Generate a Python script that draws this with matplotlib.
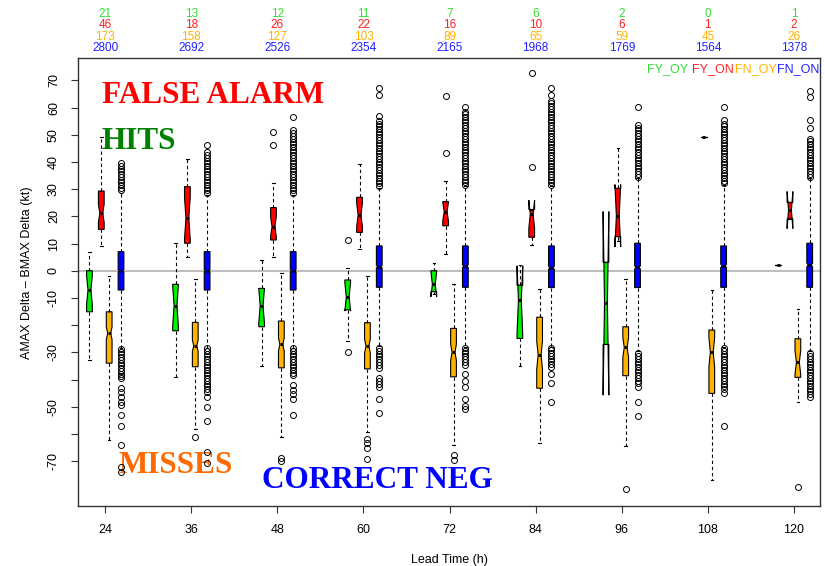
import numpy as np
import matplotlib
matplotlib.use("Agg")
import matplotlib.pyplot as plt

plt.rcParams["font.family"] = ["Liberation Sans", "DejaVu Sans"]

lead_times = [24, 36, 48, 60, 72, 84, 96, 108, 120]

# sample sizes per lead time
n_fy_oy = [21, 13, 12, 11, 7, 6, 2, 0, 1]
n_fy_on = [46, 18, 26, 22, 16, 10, 6, 1, 2]
n_fn_oy = [173, 158, 127, 103, 89, 65, 59, 45, 26]
n_fn_on = [2800, 2692, 2526, 2354, 2165, 1968, 1769, 1564, 1378]

# (lower whisker, q1, median, q3, upper whisker) in kt
fy_oy_stats = [
    (-32.8, -15.1, -7.1, 0.0, 7.0),
    (-39.0, -22.1, -12.9, -5.0, 10.1),
    (-34.9, -20.6, -12.9, -6.5, 3.9),
    (-25.7, -14.4, -9.6, -3.4, 0.9),
    (-8.5, -7.7, -5.0, 0.0, 2.7),
    (-34.9, -24.9, -10.8, -5.3, 2.0),
    (-27.1, -27.1, -12.0, 3.1, 3.1),
    None,
    (2.1, 2.1, 2.1, 2.1, 2.1),
]
fy_on_stats = [
    (9.1, 15.2, 21.1, 29.3, 49.3),
    (5.1, 10.1, 19.3, 30.9, 41.1),
    (5.1, 11.3, 16.2, 23.2, 32.1),
    (8.0, 14.1, 20.5, 27.0, 39.2),
    (6.1, 16.5, 21.7, 25.4, 33.1),
    (9.4, 12.3, 20.8, 22.5, 22.5),
    (11.0, 12.5, 20.2, 30.3, 45.0),
    (49.3, 49.3, 49.3, 49.3, 49.3),
    (19.0, 19.0, 22.3, 25.1, 25.1),
]
fn_oy_stats = [
    (-62.2, -34.0, -23.0, -15.1, -1.8),
    (-58.3, -35.3, -27.6, -19.0, -3.2),
    (-61.3, -35.7, -27.1, -18.5, -1.0),
    (-59.4, -36.1, -27.7, -19.1, -1.9),
    (-64.1, -39.0, -30.0, -21.2, -5.0),
    (-63.4, -43.2, -31.0, -17.1, -6.8),
    (-64.3, -38.6, -28.2, -20.6, -3.1),
    (-77.0, -45.1, -30.0, -21.8, -7.1),
    (-48.2, -39.2, -33.7, -25.0, -14.2),
]
fn_on_stats = [
    (-28.3, -7.1, 0.0, 7.0, 28.5),
    (-28.3, -7.1, 0.0, 7.0, 28.0),
    (-28.3, -7.1, 0.0, 7.0, 28.0),
    (-27.5, -6.1, 1.5, 9.1, 30.5),
    (-28.0, -6.1, 1.7, 9.1, 31.0),
    (-28.0, -6.2, 1.1, 9.1, 31.0),
    (-29.5, -6.2, 1.2, 10.1, 34.0),
    (-28.0, -6.1, 1.8, 9.1, 31.5),
    (-29.5, -6.1, 2.1, 10.1, 34.0),
]

# outliers
fy_oy_fliers = [[], [], [], [11.3, -30.0], [], [], [], [], []]
fy_on_fliers = [[], [], [51.1, 46.2], [], [43.2, 64.2], [38.1, 72.6], [], [], []]
fn_oy_fliers = [
    [], [-61.3], [-69.0, -70.0], [-61.8, -63.5, -65.3, -69.2],
    [-67.8, -69.6], [], [-80.3], [], [-79.7],
]
fn_on_fliers = [
    [29.5, 30.5, 31.5, 32.5, 33.5, 34.5, 35.5, 36.5, 37.5, 38.5, 39.5,
     -28.8, -29.8, -30.8, -31.8, -32.8, -33.8, -34.8, -35.8, -36.8, -37.8,
     -38.8, -39.6, -43.2, -44.5, -46.3, -48.2, -49.4, -53.0, -57.1, -64.1,
     -72.0, -74.1],
    [28.5, 29.5, 30.5, 31.5, 32.5, 33.5, 34.5, 35.5, 36.5, 37.5, 38.5, 39.5,
     40.5, 41.5, 42.5, 43.8, 46.2,
     -28.5, -29.5, -30.5, -31.5, -32.5, -33.5, -34.5, -35.5, -36.5, -37.5,
     -38.5, -39.5, -40.5, -41.5, -42.5, -43.5, -44.5, -46.3, -50.0, -55.3,
     -66.5, -70.8],
    [28.5, 29.5, 30.5, 31.5, 32.5, 33.5, 34.5, 35.5, 36.5, 37.5, 38.5, 39.5,
     40.5, 41.5, 42.5, 43.5, 44.5, 45.5, 46.5, 47.5, 48.5, 49.5, 50.5, 51.7,
     56.4,
     -28.5, -29.5, -30.5, -31.5, -32.5, -33.5, -34.5, -35.5, -36.5, -37.5,
     -38.3, -42.0, -43.7, -45.5, -47.0, -53.0],
    [31.1, 32.1, 33.1, 34.1, 35.1, 36.1, 37.1, 38.1, 39.1, 40.1, 41.1, 42.1,
     43.1, 44.1, 45.1, 46.1, 47.1, 48.1, 49.1, 50.1, 51.1, 52.1, 53.1, 54.1,
     55.1, 56.9, 64.6, 67.1,
     -28.5, -29.5, -30.5, -31.5, -32.5, -33.5, -34.5, -35.9, -39.4, -40.5,
     -41.5, -42.6, -47.2, -52.2],
    [31.5, 32.5, 33.5, 34.5, 35.5, 36.5, 37.5, 38.5, 39.5, 40.5, 41.5, 42.5,
     43.5, 44.5, 45.5, 46.5, 47.5, 48.5, 49.5, 50.5, 51.5, 52.5, 53.5, 54.5,
     55.5, 56.5, 57.5, 58.5, 60.3,
     -28.4, -29.4, -30.4, -31.4, -32.4, -33.4, -34.7, -38.1, -40.6, -42.9,
     -47.2, -49.7, -51.0],
    [31.5, 32.5, 33.5, 34.5, 35.5, 36.5, 37.5, 38.5, 39.5, 40.5, 41.5, 42.5,
     43.5, 44.5, 45.5, 46.5, 47.5, 48.5, 49.5, 50.5, 51.5, 52.5, 53.5, 54.5,
     55.5, 56.5, 57.5, 58.5, 59.5, 60.5, 61.5, 62.5, 64.5, 67.0,
     -28.3, -29.3, -30.3, -31.3, -32.3, -33.3, -34.3, -35.3, -38.0, -41.4,
     -48.2],
    [34.6, 35.6, 36.6, 37.6, 38.6, 39.6, 40.6, 41.6, 42.6, 43.6, 44.6, 45.6,
     46.6, 47.6, 48.6, 49.6, 50.6, 51.6, 52.6, 53.6, 60.3,
     -30.4, -31.4, -32.4, -33.4, -34.4, -35.4, -36.4, -37.4, -38.4, -39.4,
     -40.4, -41.4, -42.6, -48.2, -53.3],
    [32.1, 33.1, 34.1, 35.1, 36.1, 37.1, 38.1, 39.1, 40.1, 41.1, 42.1, 43.1,
     44.1, 45.1, 46.1, 47.1, 48.1, 49.1, 50.1, 51.1, 52.1, 53.1, 54.1, 55.4,
     60.3,
     -28.5, -29.5, -30.5, -31.5, -32.5, -33.5, -34.5, -35.5, -36.5, -37.5,
     -38.5, -39.5, -40.5, -41.5, -42.5, -43.5, -45.1, -57.1],
    [34.6, 35.6, 36.6, 37.6, 38.6, 39.6, 40.6, 41.6, 42.6, 43.6, 44.6, 45.6,
     46.6, 47.6, 48.4, 52.3, 55.4, 63.8, 66.1,
     -30.4, -31.4, -32.4, -33.4, -34.4, -35.4, -36.4, -37.4, -38.4, -39.4,
     -40.4, -41.4, -42.4, -43.4, -44.4, -45.4, -46.3],
]

groups = [
    ("FY_OY", fy_oy_stats, fy_oy_fliers, n_fy_oy, "#00ee00", "#33dd33", -2.2),
    ("FY_ON", fy_on_stats, fy_on_fliers, n_fy_on, "#ff0000", "#ff2020", -0.55),
    ("FN_OY", fn_oy_stats, fn_oy_fliers, n_fn_oy, "#ffb300", "#ffb300", 0.55),
    ("FN_ON", fn_on_stats, fn_on_fliers, n_fn_on, "#0000ff", "#2020ff", 2.2),
]

fig = plt.figure(figsize=(8.25, 5.66), dpi=100)
ax = fig.add_axes([0.0945, 0.1065, 0.9, 0.7915])

ax.axhline(0, color="#bebebe", lw=1.5, zorder=0)

for name, stats, fliers, counts, fill, _, offset in groups:
    bxp_stats = []
    positions = []
    for lead, st, fl, n in zip(lead_times, stats, fliers, counts):
        if st is None:
            continue
        lo, q1, med, q3, hi = st
        # R style notch: median +/- 1.58 * IQR / sqrt(n)
        half = 1.58 * (q3 - q1) / np.sqrt(n)
        bxp_stats.append(dict(whislo=lo, q1=q1, med=med, q3=q3, whishi=hi,
                              cilo=med - half, cihi=med + half, fliers=fl))
        positions.append(lead + offset)
    ax.bxp(bxp_stats, positions=positions, widths=0.8, capwidths=0.35,
           shownotches=True, patch_artist=True, manage_ticks=False,
           boxprops=dict(facecolor=fill, edgecolor="black", lw=0.8),
           medianprops=dict(color="black", lw=2),
           whiskerprops=dict(color="black", lw=0.8, linestyle=(0, (3, 2.5))),
           capprops=dict(color="black", lw=0.8),
           flierprops=dict(marker="o", markerfacecolor="none",
                           markeredgecolor="black", markersize=4.3,
                           markeredgewidth=0.7),
           zorder=3)

# counts above the plot, one row per category
rows_y = [552, 540.5, 529.5, 518]
for (name, _, _, counts, _, tcolor, _), ry in zip(groups, rows_y):
    for lead, n in zip(lead_times, counts):
        ax.annotate(str(n), xy=(lead, ry), xycoords=("data", "figure pixels"),
                    ha="center", va="center", fontsize=8.5, color=tcolor,
                    annotation_clip=False)

# legend labels in the top right corner
for (name, _, _, _, _, tcolor, _), lx in zip(groups, [0.766, 0.827, 0.885, 0.942]):
    ax.text(lx, 0.975, name, transform=ax.transAxes, ha="left", va="center",
            fontsize=9, color=tcolor)

big = dict(family=["Liberation Serif", "DejaVu Serif"], fontweight="bold",
           fontsize=22.5, ha="left", va="baseline", zorder=1)
ax.text(23.54, 61.8, "FALSE ALARM", color="#ff0000", **big)
ax.text(23.54, 44.7, "HITS", color="#008000", **big)
ax.text(25.8, -74.3, "MISSES", color="#ff6a00", **big)
ax.text(45.85, -79.8, "CORRECT NEG", color="#0000ff", **big)

ax.set_xlim(20.2, 123.7)
ax.set_ylim(-86.4, 78.3)

ax.set_xticks(lead_times)
ax.set_xticklabels([str(t) for t in lead_times])
yticks = list(range(-70, 80, 10))
ax.set_yticks(yticks)
ax.set_yticklabels([str(v) if v not in (-20, -40, -60) else "" for v in yticks],
                   rotation=90, va="center")
ax.tick_params(axis="both", direction="out", length=5, width=0.8,
               labelsize=9, pad=8, color="#333333")

for sp in ax.spines.values():
    sp.set_linewidth(1.0)
    sp.set_color("#333333")

ax.set_xlabel("Lead Time (h)", fontsize=9, va="center")
ax.xaxis.set_label_coords(0.5, -0.121)
ax.set_ylabel("AMAX Delta \u2013 BMAX Delta (kt)", fontsize=9, va="center")
ax.yaxis.set_label_coords(-0.068, 0.52)

fig.savefig("out.png", dpi=100)
